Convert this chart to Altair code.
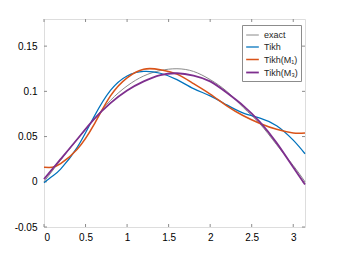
import altair as alt
import pandas as pd

x_vals = [0.0, 0.1, 0.2, 0.4, 0.6, 0.8, 1.0, 1.2, 1.4, 1.6, 1.8, 2.0, 2.2, 2.4, 2.6, 2.8, 3.0, 3.1416]
exact = [0.0, 0.012, 0.024, 0.047, 0.069, 0.090, 0.106, 0.117, 0.123, 0.125, 0.122, 0.113, 0.100, 0.082, 0.064, 0.041, 0.018, 0.0]
tikh = [-0.001, 0.006, 0.014, 0.038, 0.0715, 0.101, 0.117, 0.122, 0.120, 0.113, 0.103, 0.095, 0.085, 0.076, 0.0705, 0.062, 0.046, 0.031]
tikh_m1 = [0.016, 0.016, 0.020, 0.036, 0.063, 0.095, 0.115, 0.1245, 0.124, 0.119, 0.1085, 0.097, 0.084, 0.073, 0.0645, 0.058, 0.054, 0.054]
tikh_m3 = [0.003, 0.014, 0.025, 0.047, 0.069, 0.087, 0.101, 0.111, 0.118, 0.120, 0.1175, 0.111, 0.0985, 0.084, 0.066, 0.043, 0.016, -0.003]

names = ["exact", "Tikh", "Tikh(M\u2081)", "Tikh(M\u2083)"]
colors = ["#8a8a8a", "#0072BD", "#D95319", "#7E2F8E"]
widths = [1.0, 1.8, 1.8, 1.8]

x_ticks = [0, 0.5, 1, 1.5, 2, 2.5, 3]
y_ticks = [-0.05, 0, 0.05, 0.1, 0.15]

rows = []
for i, (name, series) in enumerate(zip(names, [exact, tikh, tikh_m1, tikh_m3])):
    for xv, yv in zip(x_vals, series):
        rows.append({"x": xv, "y": yv, "series": name, "ord": i})
df = pd.DataFrame(rows)

W, H = 261, 208
AXC = "#8c8c8c"

xscale = alt.Scale(domain=[0, 3.14159], nice=False, zero=False)
yscale = alt.Scale(domain=[-0.05, 0.18], nice=False, zero=False)

lines = alt.Chart(df).mark_line(interpolate="natural").encode(
    x=alt.X("x:Q", scale=xscale,
            axis=alt.Axis(values=x_ticks, labelExpr="'' + datum.value", title=None,
                          grid=False, domain=False, ticks=False, labelPadding=5)),
    y=alt.Y("y:Q", scale=yscale,
            axis=alt.Axis(values=y_ticks, labelExpr="'' + datum.value", title=None,
                          grid=False, domain=False, ticks=False, labelPadding=7)),
    color=alt.Color("series:N", sort=names,
                    scale=alt.Scale(domain=names, range=colors),
                    legend=alt.Legend(title=None, orient="none", legendX=198, legendY=6,
                                      symbolType="stroke", symbolSize=160,
                                      symbolStrokeWidth=2, labelFontSize=9,
                                      labelFont="Liberation Sans", labelColor="#262626",
                                      strokeColor=AXC, fillColor="white", padding=3,
                                      rowPadding=0, labelOffset=4)),
    strokeWidth=alt.StrokeWidth("series:N", scale=alt.Scale(domain=names, range=widths), legend=None),
    order=alt.Order("ord:Q"),
)

xt = pd.DataFrame({"v": x_ticks})
yt = pd.DataFrame({"v": y_ticks})
tk = 3
bottom = alt.Chart(xt).mark_rule(color=AXC, strokeWidth=1).encode(
    x=alt.X("v:Q", scale=xscale), y=alt.value(H), y2=alt.value(H - tk))
top = alt.Chart(xt).mark_rule(color=AXC, strokeWidth=1).encode(
    x=alt.X("v:Q", scale=xscale), y=alt.value(0), y2=alt.value(tk))
left = alt.Chart(yt).mark_rule(color=AXC, strokeWidth=1).encode(
    y=alt.Y("v:Q", scale=yscale), x=alt.value(0), x2=alt.value(tk))
right = alt.Chart(yt).mark_rule(color=AXC, strokeWidth=1).encode(
    y=alt.Y("v:Q", scale=yscale), x=alt.value(W), x2=alt.value(W - tk))

chart = alt.layer(bottom, top, left, right, lines).properties(
    width=W, height=H,
    autosize=alt.AutoSizeParams(type="none"),
    padding={"left": 36, "top": 11, "right": 20, "bottom": 19},
).configure_view(stroke=AXC, strokeWidth=1).configure_axis(
    labelFont="Liberation Sans", labelFontSize=10, labelColor="#262626"
).configure(background="white")

chart.save("out.html", embed_options={"renderer": "svg", "actions": False})
